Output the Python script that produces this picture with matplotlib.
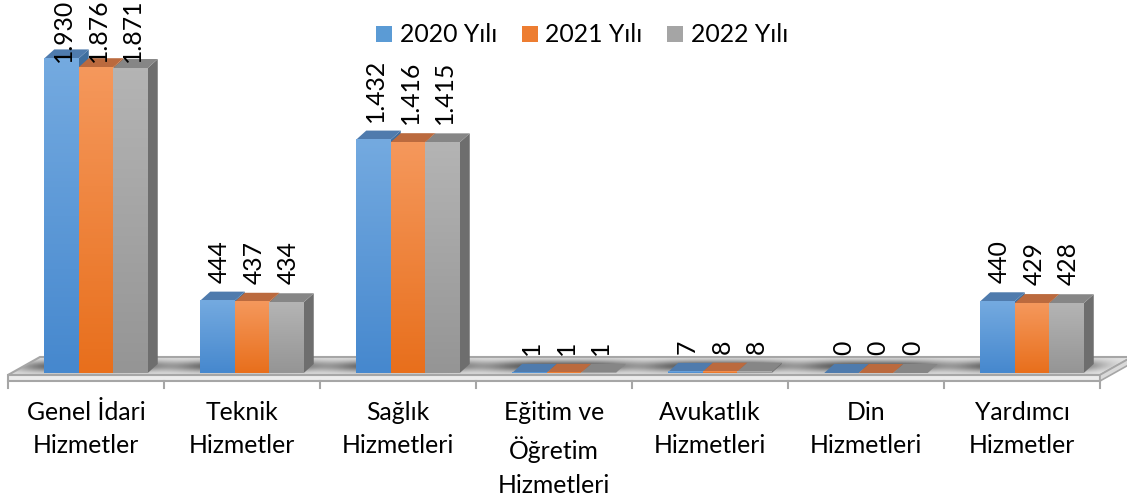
import numpy as np
import matplotlib.pyplot as plt
from matplotlib.patches import Polygon
from matplotlib.colors import LinearSegmentedColormap

# ---------------- dados ----------------
categorias = ["Genel İdari\nHizmetler", "Teknik\nHizmetler", "Sağlık\nHizmetleri",
              "Eğitim ve\nÖğretim\nHizmetleri", "Avukatlık\nHizmetleri",
              "Din\nHizmetleri", "Yardımcı\nHizmetler"]
series = ["2020 Yılı", "2021 Yılı", "2022 Yılı"]
v2020 = [1930, 444, 1432, 1, 7, 0, 440]
v2021 = [1876, 437, 1416, 1, 8, 0, 429]
v2022 = [1871, 434, 1415, 1, 8, 0, 428]
valores = [v2020, v2021, v2022]

# ---------------- estilo ----------------
cores = ["#5B9BD5", "#ED7D31", "#A5A5A5"]
cor_topo = ["#4f7bad", "#bb6a3e", "#868686"]
cor_lado = ["#3f6e9e", "#b35a22", "#6e6e6e"]
grad_cima = ["#74aae0", "#f5985c", "#b4b4b4"]
grad_baixo = ["#4688ce", "#e86f1c", "#959595"]

plt.rcParams['font.family'] = ['Lato', 'DejaVu Sans']
fs = 17.8

W, H = 1127, 496
px_cat = 156.0           # pixels por categoria
px_val = 0.163           # pixels por unidade
base_px = 373            # linha de base (pixels do topo)
u = 1 / px_val           # unidades por pixel
cx = lambda p: p / px_cat

fig = plt.figure(figsize=(W / 100, H / 100), dpi=100)
ax = fig.add_axes([0, 0, 1, 1])
ax.axis('off')
xlim = (-86 / px_cat, (W - 86) / px_cat)
ylim = (-(H - base_px) * u, base_px * u)

# ---------------- piso ----------------
n = len(categorias)
fx0, fx1 = -0.5, n - 0.5
fdx = cx(32)
y_front = -2 * u
y_back = 16 * u
y_slab = -8 * u

# superficie do piso com sombras
xs = np.linspace(fx0, fx1 + fdx, 900)
ys = np.linspace(y_front, y_back, 60)
X, Y = np.meshgrid(xs, ys)
img = np.full(X.shape, 0.9)
t = (Y - y_front) / (y_back - y_front)
for i in range(n):
    c = i - 0.02 + 0.12 * t
    img -= 0.55 * np.exp(-((X - c) / 0.47) ** 4) * np.exp(-((t - 0.5) / 0.32) ** 2)
img = np.clip(img, 0.25, 1)
floor = Polygon([(fx0, y_front), (fx1, y_front), (fx1 + fdx, y_back), (fx0 + fdx, y_back)],
                closed=True, facecolor='none', edgecolor='#a6a6a6', lw=1.5, zorder=2)
im = ax.imshow(img, extent=[xs[0], xs[-1], y_front, y_back], origin='lower',
               cmap='gray', vmin=0, vmax=1, aspect='auto', zorder=1)
ax.add_patch(floor)
im.set_clip_path(floor)
slab = Polygon([(fx0, y_front), (fx1, y_front), (fx1, y_slab), (fx0, y_slab)],
               closed=True, facecolor='#ececec', edgecolor='#a6a6a6', lw=1.5, zorder=2)
ax.add_patch(slab)
slab_side = Polygon([(fx1, y_front), (fx1 + fdx, y_back), (fx1 + fdx, y_back - 6 * u), (fx1, y_slab)],
                    closed=True, facecolor='#d9d9d9', edgecolor='#a6a6a6', lw=1.2, zorder=2)
ax.add_patch(slab_side)
for k in range(n + 1):
    ax.plot([fx0 + k, fx0 + k], [y_slab, y_slab - 7 * u], color='#a6a6a6', lw=1.5, zorder=2)

# ---------------- barras 3D ----------------
x = np.arange(n)
largura = cx(34.5)
offs = [cx(-24.5), cx(10), cx(44.5)]
ddx, ddy = cx(10), 9 * u
z = 5
for i in range(n):
    for s in range(3):
        v = valores[s][i]
        xc = x[i] + offs[s]
        x0, x1 = xc - largura / 2, xc + largura / 2
        ax.add_patch(Polygon([(x1, 0), (x1 + ddx, ddy), (x1 + ddx, v + ddy), (x1, v)],
                             closed=True, facecolor=cor_lado[s], edgecolor='none', zorder=z))
        ax.add_patch(Polygon([(x0, v), (x1, v), (x1 + ddx, v + ddy), (x0 + ddx, v + ddy)],
                             closed=True, facecolor=cor_topo[s], edgecolor='none', zorder=z))
        b = ax.bar(xc, v, width=largura, color=cores[s], zorder=z,
                   label=series[s] if i == 0 else None)
        if v > 0:
            cmap = LinearSegmentedColormap.from_list('g', [grad_baixo[s], grad_cima[s]])
            ax.imshow(np.linspace(0, 1, 100).reshape(-1, 1), extent=[x0, x1, 0, v],
                      origin='lower', cmap=cmap, aspect='auto', zorder=z)
        z += 1

# rótulos de valores
for s in range(3):
    for i in range(n):
        v = valores[s][i]
        rot = f"{v:,}".replace(",", ".")
        yl = min(v + 18 * u, 1910)
        ax.text(x[i] + offs[s] + cx(2), yl, rot, rotation=90, ha='center', va='bottom',
                fontsize=fs, color='black', zorder=50)

# categorias
for i, c in enumerate(categorias):
    ax.text(x[i], -(401 - base_px) * u, c, ha='center', va='top',
            fontsize=fs, linespacing=1.55, color='black')

# legenda
h, l = ax.get_legend_handles_labels()
ax.legend(h, l, loc='center', bbox_to_anchor=(582 / W, 1 - 35 / H), ncol=3, frameon=False,
          fontsize=fs, handlelength=0.65, handleheight=0.65, handletextpad=0.3,
          columnspacing=1.0, bbox_transform=fig.transFigure)

ax.set_xlim(*xlim)
ax.set_ylim(*ylim)
fig.savefig("out.png", dpi=100)
